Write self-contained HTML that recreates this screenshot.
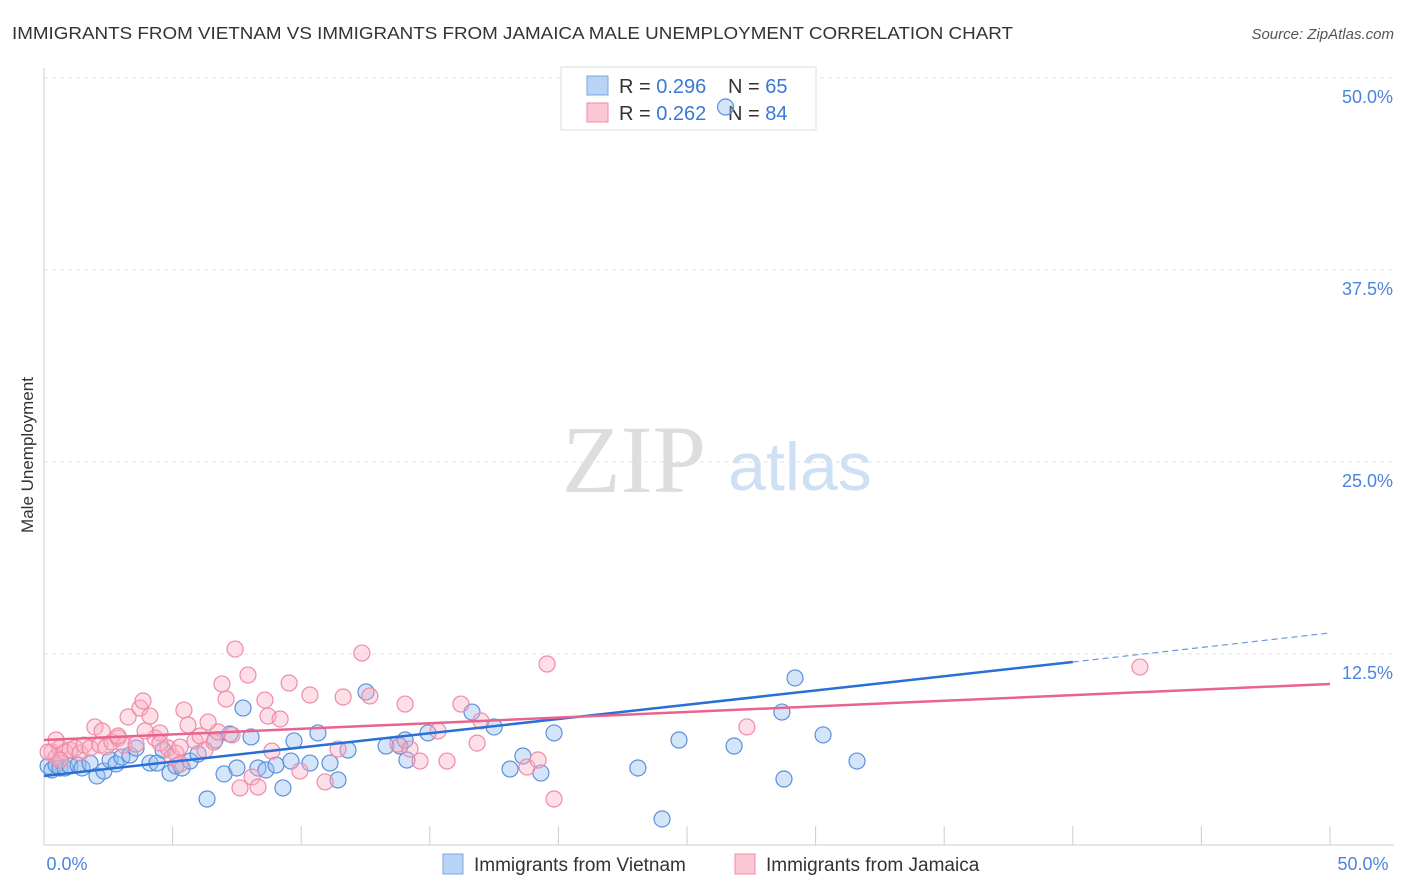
<!DOCTYPE html>
<html><head><meta charset="utf-8"><style>
body{margin:0;background:#fff;font-family:"Liberation Sans",sans-serif;}
svg{display:block}
</style></head><body>
<svg id="chart" width="1406" height="892" xmlns="http://www.w3.org/2000/svg" font-family="Liberation Sans, sans-serif">
<text x="12" y="39" font-size="17.5" fill="#333" textLength="1001" lengthAdjust="spacingAndGlyphs">IMMIGRANTS FROM VIETNAM VS IMMIGRANTS FROM JAMAICA MALE UNEMPLOYMENT CORRELATION CHART</text>
<text x="1394" y="39" font-size="15" fill="#555" font-style="italic" text-anchor="end">Source: ZipAtlas.com</text>
<text x="33" y="455" font-size="17" fill="#333" text-anchor="middle" transform="rotate(-90 33 455)">Male Unemployment</text>
<text x="634" y="492" font-size="96" fill="#ddd" font-family="Liberation Serif, serif" text-anchor="middle">ZIP</text>
<text x="800" y="490" font-size="68" fill="#cfe0f5" text-anchor="middle">atlas</text>
<g id="grid"></g>
<g>
<rect x="561" y="67" width="255" height="63" fill="#fff" fill-opacity="0.85" stroke="#ddd"/>
<rect x="587" y="76" width="21" height="19" fill="#b8d3f5" stroke="#7aa8e6"/>
<rect x="587" y="103" width="21" height="19" fill="#fbc7d5" stroke="#f08aa8"/>
<text x="619" y="93" font-size="20" fill="#333">R = <tspan fill="#3a78d8">0.296</tspan></text>
<text x="728" y="93" font-size="20" fill="#333">N = <tspan fill="#3a78d8">65</tspan></text>
<text x="619" y="120" font-size="20" fill="#333">R = <tspan fill="#3a78d8">0.262</tspan></text>
<text x="728" y="120" font-size="20" fill="#333">N = <tspan fill="#3a78d8">84</tspan></text>
</g>
<g id="pts"></g><g id="lines"></g>
<g>
<rect x="443" y="854" width="20" height="20" fill="#b8d3f5" stroke="#7aa8e6"/>
<text x="474" y="871" font-size="19" fill="#333">Immigrants from Vietnam</text>
<rect x="735" y="854" width="20" height="20" fill="#fbc7d5" stroke="#f08aa8"/>
<text x="766" y="871" font-size="19" fill="#333">Immigrants from Jamaica</text>
</g>
</svg>
<script>
const yTicks=[12.5,25,37.5,50];
const yTickLabels=["12.5%","25.0%","37.5%","50.0%"];
const xTickLabels=["0.0%","50.0%"];
const vietX=[0.16,0.31,0.47,0.62,0.82,1.01,1.32,1.48,1.79,2.06,2.33,2.57,2.8,3.03,3.34,3.58,4.12,4.39,4.63,4.9,5.13,5.37,5.68,5.99,6.34,6.65,7.0,7.23,7.5,7.74,8.05,8.32,8.63,9.02,9.29,9.6,9.72,10.34,10.65,11.12,11.43,11.82,12.52,13.3,13.84,14.04,14.11,14.93,16.64,17.5,18.12,18.62,19.32,19.83,23.09,24.03,24.69,26.83,26.5,28.69,28.77,29.2,30.29,31.61];
const vietY=[5.21,4.95,5.27,5.08,5.08,5.21,5.27,5.08,5.4,4.56,4.88,5.6,5.34,5.79,5.92,6.38,5.4,5.4,6.25,4.75,5.21,5.08,5.53,5.99,3.06,6.9,4.69,7.29,5.08,8.98,7.1,5.08,4.95,5.27,3.78,5.53,6.84,5.4,7.36,5.4,4.3,6.25,10.03,6.51,6.51,6.9,5.6,7.36,8.72,7.75,5.01,5.86,4.75,7.36,5.08,1.76,6.9,6.51,48.11,8.72,4.36,10.94,7.23,5.53];
const jamX=[0.31,0.47,0.62,0.82,1.01,1.21,1.4,1.56,1.79,1.98,2.18,2.41,2.64,2.88,3.11,3.27,3.58,3.73,3.85,4.12,4.32,4.51,4.82,4.98,5.13,5.29,5.44,5.6,5.87,6.07,6.26,6.38,6.61,6.77,6.92,7.08,7.31,7.43,7.62,7.93,8.09,8.32,8.59,8.71,8.86,9.18,9.53,9.95,10.34,10.93,11.43,11.63,12.36,12.67,13.76,14.04,14.23,14.62,15.32,15.67,16.21,16.84,16.99,18.78,19.21,19.56,19.83,27.33,42.61,0.62,0.16,0.47,2.26,2.88,3.93,4.51,5.29];
const jamY=[6.12,5.79,6.38,6.12,6.25,6.38,6.05,6.57,6.38,7.75,6.57,6.44,6.77,7.03,6.57,8.4,6.64,8.98,9.44,8.46,7.03,7.36,6.38,5.79,6.05,6.44,8.85,7.88,6.84,7.16,6.25,8.07,6.77,7.42,10.55,9.57,7.23,12.82,3.78,11.13,4.49,3.84,9.5,8.46,6.18,8.27,10.61,4.88,9.83,4.17,6.31,9.7,12.56,9.77,6.64,9.24,6.31,5.53,7.49,5.53,9.24,6.7,8.14,5.14,5.6,11.85,3.06,7.75,11.65,5.6,6.12,6.9,7.49,7.16,7.49,6.7,5.34];
const vietLine=[0,4.56,40,11.98,50,13.87];
const jamLine=[0,6.9,50,10.55];
const X0=44,X1=1330,Y0=846,Y50=78;
const sx=v=>X0+(X1-X0)*v/50, sy=v=>Y0-(Y0-Y50)*v/50;
const NS="http://www.w3.org/2000/svg";
function mk(p,t,a){const e=document.createElementNS(NS,t);for(const k in a)e.setAttribute(k,a[k]);p.appendChild(e);return e;}
const grid=document.getElementById('grid');
yTicks.forEach((t,i)=>{
 const l=mk(grid,'line',{x1:X0,x2:1394,y1:sy(t),y2:sy(t),stroke:'#e2e2e2','stroke-dasharray':'4,4'});
 
 
 const tx=mk(grid,'text',{x:1393,y:sy(t)+25,'font-size':18,fill:'#4a84dc','text-anchor':'end'});
 tx.textContent=yTickLabels[i];
 
 
});
const ax=mk(grid,'line',{x1:X0,x2:1394,y1:845,y2:845,stroke:'#ccc'});


const ay=mk(grid,'line',{x1:X0,x2:X0,y1:68,y2:845,stroke:'#ccc'});


for(let i=0;i<=10;i++){const t=mk(grid,'line',{x1:sx(i*5),x2:sx(i*5),y1:826,y2:845,stroke:'#ccc'});
 
 }
[[X0+25,'middle',0],[1365,'middle',1]].forEach(([x,a,i])=>{const t=mk(grid,'text',{x:x-2,y:870,'font-size':18,fill:'#4a84dc','text-anchor':a});t.textContent=xTickLabels[i];
 
 });
const pts=document.getElementById('pts');
vietX.forEach((v,i)=>{const c=mk(pts,'circle',{cx:sx(v),cy:sy(vietY[i]),r:8,fill:'rgba(150,190,240,0.4)',stroke:'#5a90dc','stroke-width':1.2});
 
 });
jamX.forEach((v,i)=>{const c=mk(pts,'circle',{cx:sx(v),cy:sy(jamY[i]),r:8,fill:'rgba(250,175,195,0.4)',stroke:'#f08aa8','stroke-width':1.2});
 
 });
const lg=document.getElementById('lines');
const b1=mk(lg,'line',{x1:sx(vietLine[0]),y1:sy(vietLine[1]),x2:sx(vietLine[2]),y2:sy(vietLine[3]),stroke:'#2a6fd6','stroke-width':2.5});


const b2=mk(lg,'line',{x1:sx(vietLine[2]),y1:sy(vietLine[3]),x2:sx(vietLine[4]),y2:sy(vietLine[5]),stroke:'#6a9ade','stroke-width':1.2,'stroke-dasharray':'6,4'});


const p1=mk(lg,'line',{x1:sx(jamLine[0]),y1:sy(jamLine[1]),x2:sx(jamLine[2]),y2:sy(jamLine[3]),stroke:'#e8638e','stroke-width':2.5});


</script>
</body></html>
